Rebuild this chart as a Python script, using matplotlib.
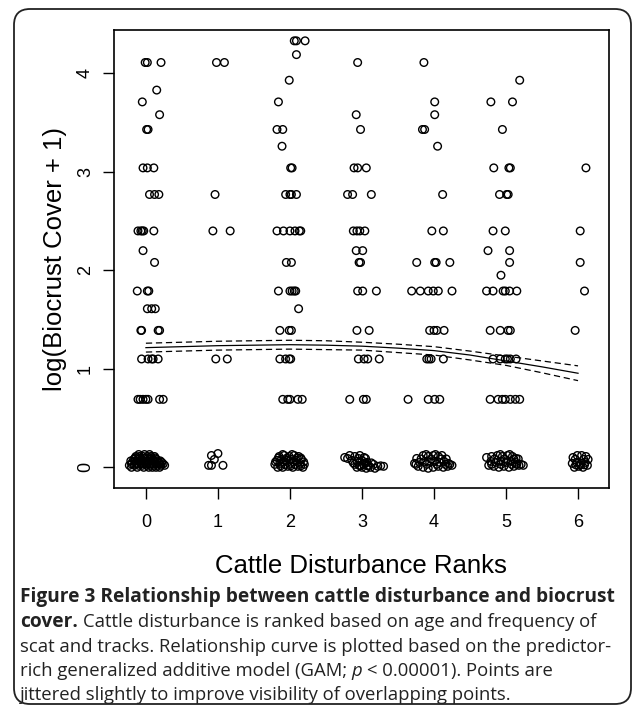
"""
Cattle disturbance rank vs log(biocrust cover + 1), jittered points + GAM curve.
"""

import matplotlib
matplotlib.use("Agg")
import matplotlib.pyplot as plt
from matplotlib.patches import FancyBboxPatch
from matplotlib.transforms import IdentityTransform

# ---- data ----
# jittered rank positions for each non-zero log(cover + 1) level
x_433 = [2.06, 2.09, 2.21]
x_419 = [2.09]
x_411 = [-0.01, 0.02, 0.21, 0.98, 1.09, 2.94, 3.86]
x_393 = [1.99, 5.19]
x_383 = [0.15]
x_371 = [-0.05, 1.84, 4.01, 4.79, 5.09]
x_358 = [0.19, 2.92, 4.01]
x_343 = [0.01, 0.03, 1.82, 1.90, 2.98, 3.84, 3.87, 4.95]
x_326 = [1.89, 4.05]
x_304 = [-0.04, 0.02, 0.11, 2.01, 2.03, 2.89, 2.94, 3.06, 4.83, 5.04, 5.06, 6.11]
x_277 = [0.05, 0.12, 0.18, 0.96, 1.94, 2.00, 2.02, 2.09, 2.80, 2.87, 3.13,
         4.12, 4.91, 5.01, 5.03]
x_240 = [-0.11, -0.07, -0.05, -0.03, 0.11, 0.93, 1.17, 1.82, 1.91, 2.00, 2.07,
         2.13, 2.15, 2.88, 2.93, 2.97, 3.04, 3.97, 4.13, 4.82, 4.99, 6.03]
x_220 = [-0.04, 2.92, 3.01, 4.75, 5.05]
x_208 = [0.12, 1.95, 2.02, 2.96, 2.98, 3.76, 4.01, 4.03, 4.22, 5.05, 6.03]
x_195 = [4.93]
x_179 = [-0.12, 0.02, 0.04, 1.84, 2.00, 2.03, 2.06, 2.08, 2.94, 3.01, 3.20,
         3.69, 3.81, 3.92, 3.99, 4.06, 4.25, 4.73, 4.82, 4.96, 4.99, 5.05,
         5.15, 6.09]
x_161 = [0.02, 0.08, 0.13, 2.12]
x_139 = [-0.07, -0.06, 0.17, 0.19, 1.86, 1.99, 2.02, 2.93, 3.10, 3.94, 4.00,
         4.04, 4.14, 4.78, 4.92, 5.03, 5.06, 5.96]
x_110 = [-0.06, 0.03, 0.08, 0.10, 0.17, 0.97, 1.13, 1.86, 1.94, 1.99, 2.01,
         2.95, 3.03, 3.08, 3.24, 3.90, 3.93, 3.96, 4.13, 4.82, 4.92, 4.99,
         5.02, 5.06, 5.14]
x_069 = [-0.11, -0.08, -0.04, 0.00, 0.03, 0.19, 0.24, 1.90, 1.97, 2.00, 2.11,
         2.17, 2.83, 3.02, 3.06, 3.64, 3.92, 4.01, 4.08, 4.78, 4.89, 4.95,
         4.99, 5.06, 5.13, 5.19]

levels = [4.33, 4.19, 4.11, 3.93, 3.83, 3.71, 3.58, 3.43, 3.26, 3.04, 2.77,
          2.40, 2.20, 2.08, 1.95, 1.79, 1.61, 1.39, 1.10, 0.69]
level_x = [x_433, x_419, x_411, x_393, x_383, x_371, x_358, x_343, x_326,
           x_304, x_277, x_240, x_220, x_208, x_195, x_179, x_161, x_139,
           x_110, x_069]

# points with (near) zero cover, one cluster per rank
zero_x = [
    # rank 0
    -0.14, -0.09, -0.04, 0.02, 0.07, 0.12,
    -0.17, -0.11, -0.06, 0.00, 0.05, 0.10, 0.15,
    -0.19, -0.13, -0.07, -0.02, 0.03, 0.08, 0.13, 0.18, 0.22,
    -0.23, -0.16, -0.10, -0.05, 0.01, 0.06, 0.11, 0.16, 0.21, 0.26,
    -0.20, -0.12, -0.03, 0.04, 0.09, 0.14, 0.19,
    -0.10, -0.02, 0.05,
    -0.15, -0.08, -0.01, 0.06, 0.13,
    -0.21, -0.15, -0.09, -0.03, 0.04, 0.10, 0.16, 0.20,
    -0.20, -0.13, -0.07, 0.00, 0.07, 0.14, 0.19, 0.24,
    # rank 1
    0.91, 1.00, 0.95, 0.87, 0.91, 1.07,
    # rank 2
    1.85, 1.92, 1.99, 2.06, 2.12, 1.82, 1.88, 1.95, 2.02, 2.09, 2.16,
    1.79, 1.86, 1.93, 2.00, 2.07, 2.14, 2.20, 1.83, 1.90, 1.97, 2.04, 2.11, 2.18,
    1.90, 2.03, 1.84, 1.96, 2.10, 2.15, 1.80, 1.91, 2.05, 2.19, 1.87, 2.01, 2.15,
    # rank 3
    2.76, 2.83, 2.90, 2.97, 3.03, 2.86, 2.93, 3.00, 3.07, 2.90, 2.96, 3.02,
    3.09, 3.16, 3.22, 3.30, 2.93, 3.00, 3.06, 3.12, 3.18,
    2.80, 2.95, 3.05, 2.88, 3.04, 3.13, 3.26, 2.98, 3.08,
    # rank 4
    3.76, 3.85, 3.92, 3.99, 4.06, 4.11, 3.73, 3.80, 3.87, 3.94, 4.01, 4.08,
    4.14, 4.20, 3.78, 3.85, 3.92, 3.99, 4.06, 4.13, 4.19, 4.25,
    3.89, 4.02, 3.82, 3.96, 4.10, 4.17, 3.75, 3.90, 4.04, 4.16, 4.22,
    # rank 5
    4.73, 4.80, 4.88, 4.95, 5.02, 5.09, 5.14, 4.79, 4.86, 4.93, 5.00, 5.07,
    5.13, 4.76, 4.83, 4.90, 4.97, 5.04, 5.11, 5.18, 5.24,
    4.92, 5.05, 4.84, 4.98, 5.11, 5.17, 4.80, 4.93, 5.08, 5.15, 5.21,
    # rank 6
    5.93, 5.99, 6.05, 6.11, 5.92, 5.98, 6.04, 6.10, 5.95, 6.01, 6.07, 6.13,
    5.96, 6.08, 6.14, 5.97, 6.03, 6.09,
]
zero_y = [
    0.11, 0.11, 0.11, 0.11, 0.11, 0.11,
    0.08, 0.08, 0.08, 0.08, 0.08, 0.08, 0.08,
    0.05, 0.05, 0.05, 0.05, 0.05, 0.05, 0.05, 0.05, 0.05,
    0.02, 0.02, 0.02, 0.02, 0.02, 0.02, 0.02, 0.02, 0.02, 0.02,
    0.00, 0.00, 0.00, 0.00, 0.00, 0.00, 0.00,
    0.13, 0.13, 0.13,
    0.095, 0.095, 0.095, 0.095, 0.095,
    0.065, 0.065, 0.065, 0.065, 0.065, 0.065, 0.065, 0.065,
    0.035, 0.035, 0.035, 0.035, 0.035, 0.035, 0.035, 0.035,
    0.12, 0.14, 0.08, 0.02, 0.02, 0.02,
    0.11, 0.12, 0.11, 0.12, 0.11, 0.07, 0.08, 0.07, 0.08, 0.07, 0.08,
    0.03, 0.04, 0.03, 0.04, 0.03, 0.04, 0.03, 0.00, 0.00, 0.01, 0.00, 0.01, 0.00,
    0.13, 0.13, 0.095, 0.095, 0.095, 0.095, 0.055, 0.055, 0.055, 0.055,
    0.015, 0.015, 0.015,
    0.10, 0.12, 0.11, 0.12, 0.10, 0.07, 0.06, 0.07, 0.05, 0.03, 0.02, 0.03,
    0.02, 0.03, 0.01, 0.01, 0.00, 0.00, -0.01, 0.00, -0.01,
    0.09, 0.09, 0.09, 0.045, 0.045, 0.045, 0.015, 0.015, 0.015,
    0.09, 0.12, 0.11, 0.12, 0.11, 0.12, 0.04, 0.05, 0.06, 0.05, 0.06, 0.05,
    0.06, 0.04, 0.01, 0.00, -0.01, 0.00, 0.01, 0.00, 0.01, 0.02,
    0.13, 0.13, 0.085, 0.085, 0.085, 0.085, 0.03, 0.03, 0.03, 0.03, 0.03,
    0.10, 0.11, 0.12, 0.11, 0.12, 0.11, 0.09, 0.06, 0.05, 0.06, 0.05, 0.06,
    0.05, 0.02, 0.01, 0.00, 0.01, 0.00, 0.01, 0.02, 0.02,
    0.13, 0.13, 0.085, 0.085, 0.085, 0.085, 0.03, 0.03, 0.03, 0.03, 0.03,
    0.10, 0.12, 0.12, 0.11, 0.04, 0.05, 0.04, 0.05, 0.00, 0.01, 0.00, 0.02,
    0.08, 0.08, 0.08, 0.025, 0.025, 0.025,
]

# GAM fit and confidence band
gam_rank = [0, 0.5, 1, 1.5, 2, 2.5, 3, 3.5, 4, 4.5, 5, 5.5, 6]
gam_fit = [1.215, 1.225, 1.235, 1.24, 1.245, 1.24, 1.23, 1.21, 1.185, 1.14,
           1.08, 1.02, 0.955]
gam_upper = [1.26, 1.27, 1.28, 1.285, 1.29, 1.285, 1.27, 1.25, 1.225, 1.18,
             1.13, 1.08, 1.03]
gam_lower = [1.17, 1.18, 1.19, 1.195, 1.20, 1.195, 1.19, 1.165, 1.14, 1.09,
             1.035, 0.96, 0.88]

xticks = [0, 1, 2, 3, 4, 5, 6]
yticks = [0, 1, 2, 3, 4]
XLABEL = "Cattle Disturbance Ranks"
YLABEL = "log(Biocrust Cover + 1)"

caption_lines = [
    [("Figure 3 Relationship between cattle disturbance and biocrust", "bold", "normal")],
    [("cover.", "bold", "normal"),
     ("Cattle disturbance is ranked based on age and frequency of", "normal", "normal")],
    [("scat and tracks. Relationship curve is plotted based on the predictor-", "normal", "normal")],
    [("rich generalized additive model (GAM;", "normal", "normal"),
     ("p", "normal", "italic"),
     ("< 0.00001). Points are", "normal", "normal")],
    [("jittered slightly to improve visibility of overlapping points.", "normal", "normal")],
]
# ----------------------------------------------

W, H = 632, 706
PLOT_FONT = ["Liberation Sans", "DejaVu Sans"]
CAP_FONT = ["Open Sans", "DejaVu Sans"]

fig = plt.figure(figsize=(W / 100, H / 100), dpi=100)
fig.patch.set_facecolor("white")

# rounded frame around the whole figure (pixel coords, origin bottom-left)
frame = FancyBboxPatch((14, 2), 617, 695, boxstyle="round,pad=0,rounding_size=16",
                       transform=IdentityTransform(), fill=False,
                       edgecolor="#222222", linewidth=1.3)
fig.patches.append(frame)

ax = fig.add_axes([113.5 / W, 1 - 488 / H, (609 - 113.5) / W, (488 - 30) / H])

mk = dict(marker="o", s=30, facecolors="none", edgecolors="black", linewidths=1.0)
for y, xs in zip(levels, level_x):
    ax.scatter(xs, [y] * len(xs), **mk)
ax.scatter(zero_x, zero_y, **mk)

ax.plot(gam_rank, gam_fit, color="black", lw=0.9)
ax.plot(gam_rank, gam_upper, color="black", lw=0.9, ls=(0, (5, 3)))
ax.plot(gam_rank, gam_lower, color="black", lw=0.9, ls=(0, (5, 3)))

ax.set_xlim(-0.45, 6.43)
ax.set_ylim(-0.21, 4.44)
ax.set_xticks(xticks)
ax.set_yticks(yticks)
ax.set_xticklabels([str(t) for t in xticks], family=PLOT_FONT, fontsize=13)
ax.set_yticklabels([str(t) for t in yticks], family=PLOT_FONT, fontsize=13,
                   rotation=90, va="center")
ax.tick_params(length=8, width=1.0)
ax.tick_params(axis="x", pad=11)
ax.tick_params(axis="y", pad=6)
for sp in ax.spines.values():
    sp.set_linewidth(1.2)

ax.set_xlabel(XLABEL, family=PLOT_FONT, fontsize=18.5, labelpad=16)
ax.set_ylabel(YLABEL, family=PLOT_FONT, fontsize=18.5, labelpad=7)

# caption, placed run by run in pixel coordinates
renderer = fig.canvas.get_renderer()
SIZE_REG = 13.3
SIZE_BOLD = 13.8
probe = fig.text(0, 0, "a a", fontsize=SIZE_REG, family=CAP_FONT)
probe2 = fig.text(0, 0, "aa", fontsize=SIZE_REG, family=CAP_FONT)
space_w = probe.get_window_extent(renderer).width - probe2.get_window_extent(renderer).width
probe.remove()
probe2.remove()

line_y = [597, 622, 647, 671, 695]
for runs, ytop in zip(caption_lines, line_y):
    x = 20
    for txt, weight, style in runs:
        size = SIZE_BOLD if weight == "bold" else SIZE_REG
        t = fig.text(x, H - ytop - 5, txt, fontsize=size, family=CAP_FONT,
                     fontweight=weight, fontstyle=style, color="#222222",
                     transform=IdentityTransform(), va="baseline")
        x += t.get_window_extent(renderer).width + space_w

fig.savefig("out.png", dpi=100)
